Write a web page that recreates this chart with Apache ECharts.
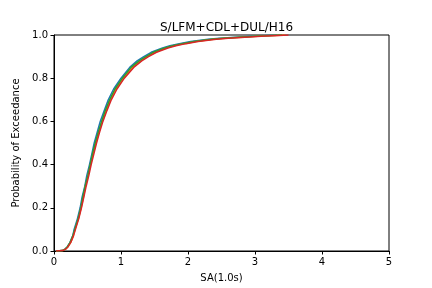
<!DOCTYPE html>
<html>
<head>
<meta charset="utf-8">
<script src="https://cdn.jsdelivr.net/npm/echarts@6/dist/echarts.min.js"></script>
<style>
  html, body { margin: 0; padding: 0; background: #fff; }
  #chart { width: 432px; height: 288px; }
</style>
</head>
<body>
<div id="chart"></div>
<script>
// 超越概率水平（纵轴）
const probLevels = [0, 0.002, 0.01, 0.02, 0.04, 0.07, 0.1, 0.15, 0.2, 0.25, 0.3, 0.35, 0.4, 0.45, 0.5, 0.55, 0.6, 0.65, 0.7, 0.75, 0.8, 0.85, 0.88, 0.9, 0.92, 0.94, 0.95, 0.96, 0.97, 0.98, 0.985, 0.99, 0.995, 0.998, 1.0];

// 各条曲线在对应概率下的 SA(1.0s) 值
const saBlue   = [0.03, 0.12, 0.17, 0.20, 0.24, 0.28, 0.30, 0.35, 0.39, 0.42, 0.46, 0.49, 0.53, 0.565, 0.60, 0.645, 0.69, 0.75, 0.81, 0.89, 1.00, 1.13, 1.24, 1.34, 1.45, 1.62, 1.73, 1.87, 2.04, 2.30, 2.47, 2.71, 2.99, 3.18, 3.33];
const saOrange = [0.03, 0.13, 0.18, 0.21, 0.25, 0.29, 0.315, 0.365, 0.405, 0.44, 0.47, 0.51, 0.545, 0.585, 0.625, 0.67, 0.72, 0.78, 0.84, 0.925, 1.035, 1.17, 1.29, 1.39, 1.51, 1.67, 1.79, 1.94, 2.12, 2.38, 2.56, 2.81, 3.10, 3.30, 3.45];
const saGreen  = [0.03, 0.13, 0.17, 0.20, 0.24, 0.28, 0.31, 0.36, 0.40, 0.43, 0.465, 0.505, 0.54, 0.575, 0.615, 0.66, 0.71, 0.765, 0.83, 0.91, 1.02, 1.15, 1.27, 1.37, 1.48, 1.65, 1.77, 1.91, 2.09, 2.35, 2.52, 2.76, 3.06, 3.25, 3.40];
const saRed    = [0.03, 0.13, 0.18, 0.21, 0.25, 0.29, 0.32, 0.37, 0.41, 0.445, 0.48, 0.52, 0.555, 0.595, 0.635, 0.68, 0.73, 0.79, 0.855, 0.94, 1.05, 1.19, 1.31, 1.41, 1.53, 1.70, 1.82, 1.97, 2.15, 2.42, 2.60, 2.85, 3.15, 3.35, 3.50];

const xTicks = [0, 1, 2, 3, 4, 5];
const yTicks = [0, 0.2, 0.4, 0.6, 0.8, 1.0];

/**
 * 组装折线数据
 */
function toPairs(xs) {
  return xs.map((x, i) => [x, probLevels[i]]);
}

function makeSeries(xs, color) {
  return {
    type: 'line',
    data: toPairs(xs),
    smooth: false,
    showSymbol: false,
    lineStyle: { color: color, width: 1.5 },
    itemStyle: { color: color },
    animation: false
  };
}

const chart = echarts.init(document.getElementById('chart'));

const axisText = { color: '#000', fontSize: 10, fontFamily: 'DejaVu Sans' };

chart.setOption({
  animation: false,
  title: {
    text: 'S/LFM+CDL+DUL/H16',
    left: 221.5,
    top: 17,
    textAlign: 'center',
    textStyle: { fontSize: 12, fontWeight: 'normal', color: '#000', fontFamily: 'DejaVu Sans' }
  },
  grid: {
    left: 54, right: 43, top: 35, bottom: 36,
    show: true, borderColor: '#000', borderWidth: 1, backgroundColor: 'transparent'
  },
  xAxis: {
    type: 'value',
    min: xTicks[0],
    max: xTicks[xTicks.length - 1],
    interval: 1,
    name: 'SA(1.0s)',
    nameLocation: 'middle',
    nameGap: 22,
    nameTextStyle: axisText,
    axisLine: { lineStyle: { color: '#000', width: 1 } },
    axisTick: { show: true, length: 3.5, inside: false, lineStyle: { color: '#000' } },
    axisLabel: Object.assign({ margin: 6 }, axisText),
    splitLine: { show: false }
  },
  yAxis: {
    type: 'value',
    min: yTicks[0],
    max: yTicks[yTicks.length - 1],
    interval: 0.2,
    name: 'Probability of Exceedance',
    nameLocation: 'middle',
    nameGap: 27,
    nameTextStyle: axisText,
    axisLine: { lineStyle: { color: '#000', width: 1 } },
    axisTick: { show: true, length: 3.5, inside: false, lineStyle: { color: '#000' } },
    axisLabel: Object.assign({ margin: 6, formatter: v => v.toFixed(1) }, axisText),
    splitLine: { show: false }
  },
  series: [
    makeSeries(saBlue, '#1f77b4'),
    makeSeries(saOrange, '#ff7f0e'),
    makeSeries(saGreen, '#2ca02c'),
    makeSeries(saRed, '#d62728')
  ]
});
</script>
</body>
</html>
